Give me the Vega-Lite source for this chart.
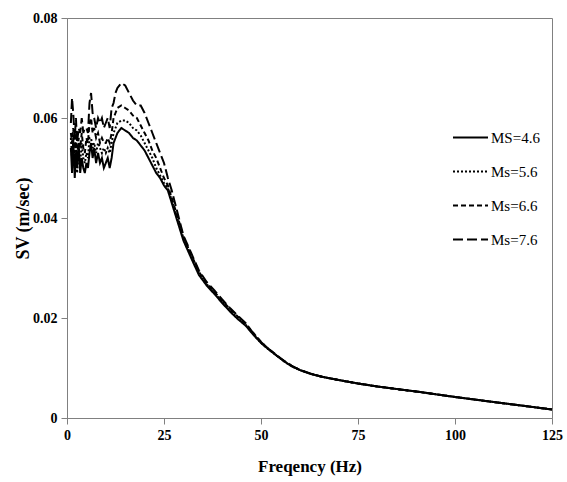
{
  "$schema": "https://vega.github.io/schema/vega-lite/v6.json",
  "width": 485,
  "height": 400,
  "autosize": {"type": "none"},
  "padding": {"left": 67, "top": 18, "right": 15, "bottom": 64},
  "background": "white",
  "config": {
    "view": {"stroke": "#808080", "strokeWidth": 1},
    "font": "Liberation Serif"
  },
  "data": {
    "values": [
      {"f": 1.0, "m46": 0.054, "m56": 0.056, "m66": 0.057, "m76": 0.059},
      {"f": 1.3, "m46": 0.049, "m56": 0.052, "m66": 0.055, "m76": 0.064},
      {"f": 1.6, "m46": 0.056, "m56": 0.053, "m66": 0.058, "m76": 0.061},
      {"f": 2.0, "m46": 0.048, "m56": 0.050, "m66": 0.053, "m76": 0.056},
      {"f": 2.3, "m46": 0.053, "m56": 0.055, "m66": 0.057, "m76": 0.060},
      {"f": 2.6, "m46": 0.050, "m56": 0.049, "m66": 0.052, "m76": 0.055},
      {"f": 3.0, "m46": 0.055, "m56": 0.053, "m66": 0.056, "m76": 0.058},
      {"f": 3.4, "m46": 0.049, "m56": 0.051, "m66": 0.054, "m76": 0.057},
      {"f": 3.8, "m46": 0.052, "m56": 0.055, "m66": 0.057, "m76": 0.060},
      {"f": 4.2, "m46": 0.050, "m56": 0.052, "m66": 0.054, "m76": 0.057},
      {"f": 4.6, "m46": 0.049, "m56": 0.051, "m66": 0.053, "m76": 0.058},
      {"f": 5.0, "m46": 0.051, "m56": 0.053, "m66": 0.056, "m76": 0.058},
      {"f": 5.4, "m46": 0.050, "m56": 0.052, "m66": 0.055, "m76": 0.057},
      {"f": 5.8, "m46": 0.053, "m56": 0.056, "m66": 0.059, "m76": 0.063},
      {"f": 6.2, "m46": 0.055, "m56": 0.056, "m66": 0.060, "m76": 0.065},
      {"f": 6.6, "m46": 0.052, "m56": 0.054, "m66": 0.057, "m76": 0.061},
      {"f": 7.0, "m46": 0.054, "m56": 0.055, "m66": 0.058, "m76": 0.060},
      {"f": 7.5, "m46": 0.051, "m56": 0.053, "m66": 0.056, "m76": 0.058},
      {"f": 8.0, "m46": 0.053, "m56": 0.055, "m66": 0.057, "m76": 0.060},
      {"f": 8.5, "m46": 0.051, "m56": 0.054, "m66": 0.055, "m76": 0.059},
      {"f": 9.0, "m46": 0.052, "m56": 0.053, "m66": 0.056, "m76": 0.060},
      {"f": 9.5, "m46": 0.050, "m56": 0.054, "m66": 0.055, "m76": 0.058},
      {"f": 10.0, "m46": 0.051, "m56": 0.053, "m66": 0.055, "m76": 0.059},
      {"f": 10.5, "m46": 0.052, "m56": 0.054, "m66": 0.056, "m76": 0.060},
      {"f": 11.0, "m46": 0.050, "m56": 0.053, "m66": 0.055, "m76": 0.058},
      {"f": 11.5, "m46": 0.052, "m56": 0.055, "m66": 0.057, "m76": 0.062},
      {"f": 12.0, "m46": 0.055, "m56": 0.057, "m66": 0.060, "m76": 0.063},
      {"f": 12.5, "m46": 0.056, "m56": 0.058, "m66": 0.061, "m76": 0.065},
      {"f": 13.0, "m46": 0.057, "m56": 0.059, "m66": 0.062, "m76": 0.066},
      {"f": 14.0, "m46": 0.058, "m56": 0.0595, "m66": 0.0625, "m76": 0.067},
      {"f": 15.0, "m46": 0.0575, "m56": 0.0595, "m66": 0.062, "m76": 0.0665},
      {"f": 16.0, "m46": 0.057, "m56": 0.059, "m66": 0.0615, "m76": 0.065},
      {"f": 17.0, "m46": 0.056, "m56": 0.058, "m66": 0.0605, "m76": 0.0635},
      {"f": 18.0, "m46": 0.0555, "m56": 0.0575, "m66": 0.060, "m76": 0.0625},
      {"f": 19.0, "m46": 0.0545, "m56": 0.0565, "m66": 0.0585, "m76": 0.0625},
      {"f": 20.0, "m46": 0.0535, "m56": 0.055, "m66": 0.057, "m76": 0.061},
      {"f": 21.0, "m46": 0.052, "m56": 0.0535, "m66": 0.0555, "m76": 0.059},
      {"f": 22.0, "m46": 0.0505, "m56": 0.052, "m66": 0.0535, "m76": 0.057},
      {"f": 23.0, "m46": 0.049, "m56": 0.050, "m66": 0.052, "m76": 0.055},
      {"f": 24.0, "m46": 0.048, "m56": 0.0485, "m66": 0.050, "m76": 0.053},
      {"f": 25.0, "m46": 0.0465, "m56": 0.047, "m66": 0.048, "m76": 0.051},
      {"f": 26.0, "m46": 0.0455, "m56": 0.046, "m66": 0.0465, "m76": 0.048},
      {"f": 27.0, "m46": 0.043, "m56": 0.0435, "m66": 0.044, "m76": 0.0455},
      {"f": 28.0, "m46": 0.0405, "m56": 0.041, "m66": 0.0415, "m76": 0.0425},
      {"f": 29.0, "m46": 0.038, "m56": 0.0385, "m66": 0.039, "m76": 0.0395},
      {"f": 30.0, "m46": 0.0355, "m56": 0.036, "m66": 0.0362, "m76": 0.0365},
      {"f": 32.0, "m46": 0.032, "m56": 0.0325, "m66": 0.0327, "m76": 0.033},
      {"f": 34.0, "m46": 0.0286, "m56": 0.029, "m66": 0.0292, "m76": 0.0295},
      {"f": 36.0, "m46": 0.0265, "m56": 0.0268, "m66": 0.027, "m76": 0.0272},
      {"f": 38.0, "m46": 0.0248, "m56": 0.025, "m66": 0.0252, "m76": 0.0255},
      {"f": 40.0, "m46": 0.023, "m56": 0.0233, "m66": 0.0235, "m76": 0.0237},
      {"f": 42.0, "m46": 0.0213, "m56": 0.0215, "m66": 0.0218, "m76": 0.022},
      {"f": 44.0, "m46": 0.0198, "m56": 0.02, "m66": 0.0203, "m76": 0.0205},
      {"f": 46.0, "m46": 0.0185, "m56": 0.0187, "m66": 0.0189, "m76": 0.019},
      {"f": 48.0, "m46": 0.0167, "m56": 0.0168, "m66": 0.017, "m76": 0.017},
      {"f": 50.0, "m46": 0.015, "m56": 0.015, "m66": 0.0152, "m76": 0.0152},
      {"f": 52.0, "m46": 0.0137, "m56": 0.0137, "m66": 0.0138, "m76": 0.0138},
      {"f": 54.0, "m46": 0.0125, "m56": 0.0125, "m66": 0.0125, "m76": 0.0126},
      {"f": 56.0, "m46": 0.0113, "m56": 0.0113, "m66": 0.0114, "m76": 0.0114},
      {"f": 58.0, "m46": 0.0103, "m56": 0.0103, "m66": 0.0104, "m76": 0.0104},
      {"f": 60.0, "m46": 0.0096, "m56": 0.0096, "m66": 0.0096, "m76": 0.0096},
      {"f": 63.0, "m46": 0.0088, "m56": 0.0088, "m66": 0.0088, "m76": 0.0088},
      {"f": 66.0, "m46": 0.0082, "m56": 0.0082, "m66": 0.0082, "m76": 0.0082},
      {"f": 70.0, "m46": 0.0076, "m56": 0.0076, "m66": 0.0076, "m76": 0.0076},
      {"f": 75.0, "m46": 0.0069, "m56": 0.0069, "m66": 0.0069, "m76": 0.0069},
      {"f": 80.0, "m46": 0.0063, "m56": 0.0063, "m66": 0.0063, "m76": 0.0063},
      {"f": 90.0, "m46": 0.0053, "m56": 0.0053, "m66": 0.0053, "m76": 0.0053},
      {"f": 100.0, "m46": 0.0042, "m56": 0.0042, "m66": 0.0042, "m76": 0.0042},
      {"f": 110.0, "m46": 0.0032, "m56": 0.0032, "m66": 0.0032, "m76": 0.0032},
      {"f": 125.0, "m46": 0.0017, "m56": 0.0017, "m66": 0.0017, "m76": 0.0017}
    ]
  },
  "transform": [
    {"fold": ["m46", "m56", "m66", "m76"], "as": ["series", "sv"]}
  ],
  "mark": {"type": "line", "color": "black", "strokeWidth": 2, "interpolate": "linear"},
  "encoding": {
    "x": {
      "field": "f",
      "type": "quantitative",
      "scale": {"domain": [0, 125], "nice": false},
      "axis": {
        "title": "Freqency (Hz)",
        "values": [0, 25, 50, 75, 100, 125],
        "grid": false,
        "domainColor": "#808080",
        "tickColor": "#808080",
        "tickSize": 6,
        "labelFont": "Liberation Serif",
        "labelFontWeight": "bold",
        "labelFontSize": 14,
        "labelColor": "black",
        "labelPadding": 4,
        "labelFlush": false,
        "titleFont": "Liberation Serif",
        "titleFontWeight": "bold",
        "titleFontSize": 17,
        "titleColor": "black",
        "titleY": 48,
        "titleBaseline": "middle"
      }
    },
    "y": {
      "field": "sv",
      "type": "quantitative",
      "scale": {"domain": [0, 0.08], "nice": false},
      "axis": {
        "title": "SV (m/sec)",
        "values": [0, 0.02, 0.04, 0.06, 0.08],
        "format": "~g",
        "grid": false,
        "domainColor": "#808080",
        "tickColor": "#808080",
        "tickSize": 6,
        "labelFont": "Liberation Serif",
        "labelFontWeight": "bold",
        "labelFontSize": 14,
        "labelColor": "black",
        "labelPadding": 4,
        "labelFlush": false,
        "titleFont": "Liberation Serif",
        "titleFontWeight": "bold",
        "titleFontSize": 18,
        "titleColor": "black",
        "titleX": -44,
        "titleY": 200,
        "titleAlign": "center",
        "titleBaseline": "middle"
      }
    },
    "strokeDash": {
      "field": "series",
      "type": "nominal",
      "scale": {
        "domain": ["m46", "m56", "m66", "m76"],
        "range": [[1, 0], [2, 2], [5, 3], [10, 4]]
      },
      "legend": {
        "title": null,
        "orient": "none",
        "legendX": 385,
        "legendY": 101,
        "symbolType": "stroke",
        "symbolSize": 1225,
        "symbolStrokeWidth": 2,
        "symbolStrokeColor": "black",
        "labelOffset": 2,
        "rowPadding": 7,
        "labelFont": "Liberation Serif",
        "labelFontSize": 15,
        "labelColor": "black",
        "labelExpr": "datum.label == 'm46' ? 'MS=4.6' : datum.label == 'm56' ? 'Ms=5.6' : datum.label == 'm66' ? 'Ms=6.6' : 'Ms=7.6'"
      }
    }
  }
}
